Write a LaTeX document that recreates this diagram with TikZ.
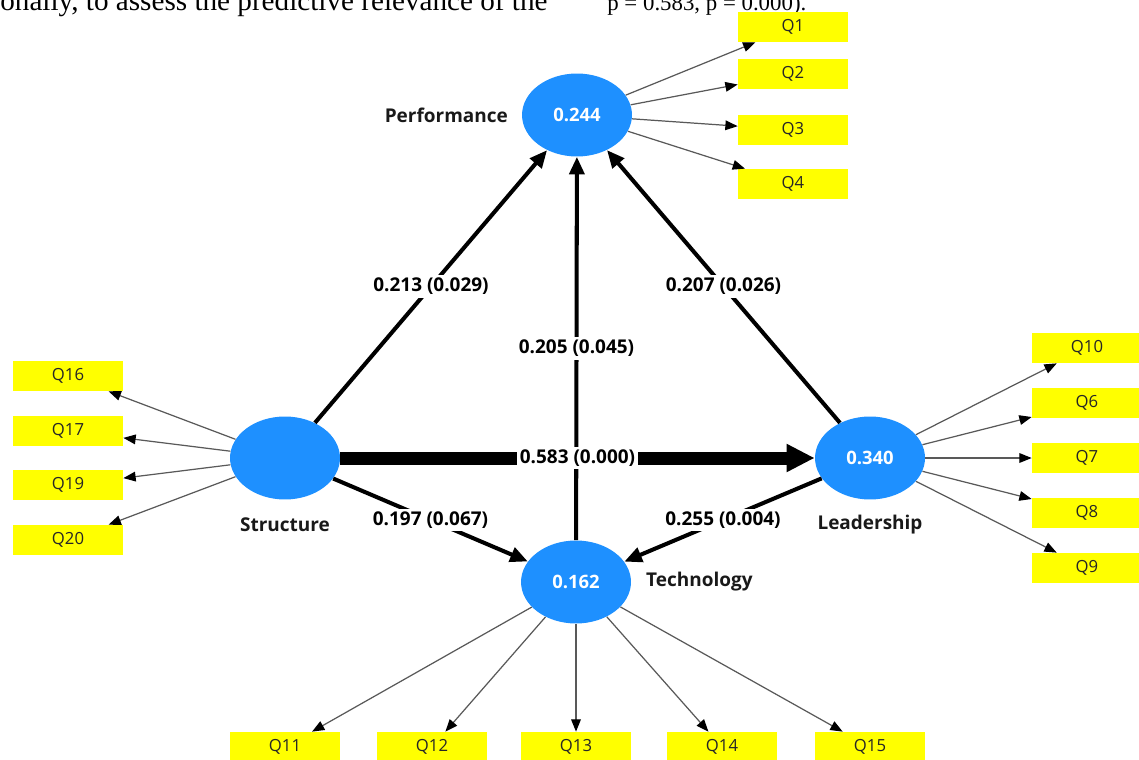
\documentclass[tikz,border=0pt]{standalone}
\usepackage{fontspec}
\setmainfont{Open Sans}
\newfontfamily\paperfont{Liberation Serif}
\usepackage{xcolor}
\usetikzlibrary{shapes.geometric,arrows.meta}
\definecolor{lvblue}{RGB}{30,144,255}
\definecolor{itemyellow}{RGB}{255,255,0}

\begin{document}
\begin{tikzpicture}[x=0.02cm, y=-0.02cm,
    latent/.style={ellipse, fill=lvblue, minimum width=2.2cm, minimum height=1.66cm,
                   inner sep=0pt, text=white, font=\fontsize{10.5}{12}\selectfont\bfseries},
    indicator/.style={fill=itemyellow, minimum width=2.2cm, minimum height=0.6cm,
                      inner sep=0pt, text=black!85, font=\fontsize{9.5}{11}\selectfont},
    lvlabel/.style={text=black!90, font=\fontsize{10.8}{12}\selectfont\bfseries},
    coef/.style={fill=white, inner sep=1.5pt, font=\fontsize{10.8}{12}\selectfont\bfseries},
    arrow/.style={-{Triangle[length=10pt, width=8.5pt]}, line width=2.3pt},
    bigarrow/.style={-{Triangle[length=16pt, width=15pt]}, line width=7.4pt},
    loading/.style={-{Triangle[length=7pt, width=5.5pt, color=black]}, line width=0.7pt, draw=black!65}
  ]
  \useasboundingbox (0,0) rectangle (1139,760);
  \clip (0,0) rectangle (1139,760);
  % Cut-off line of the page above
  \node[anchor=base west, inner sep=0pt, font=\paperfont\fontsize{16.6}{18}\selectfont] (txta) at (0,11)
        {onally, to assess the predictive relevance of the};
  \node[anchor=base west, inner sep=0pt, font=\paperfont\fontsize{13}{15}\selectfont] (txtb) at (607,11)
        {p = 0.583, p = 0.000).};
  % Latent variables
  \node[latent] (perf)   at (577,115) {0.244};
  \node[latent] (struct) at (285,458) {};
  \node[latent] (lead)   at (870,458) {0.340};
  \node[latent] (tech)   at (576,582) {0.162};
  \node[lvlabel, anchor=east] (perfl)   at (514,115) {Performance};
  \node[lvlabel] (structl) at (285,525) {Structure};
  \node[lvlabel] (leadl)   at (870,525) {Leadership};
  \node[lvlabel, anchor=west] (techl) at (640,582) {Technology};
  % Indicators
  \node[indicator] (q1)  at (793,27)  {Q1};
  \node[indicator] (q2)  at (793,74)  {Q2};
  \node[indicator] (q3)  at (793,130) {Q3};
  \node[indicator] (q4)  at (793,184) {Q4};
  \node[indicator] (q16) at (68,376)  {Q16};
  \node[indicator] (q17) at (68,431)  {Q17};
  \node[indicator] (q19) at (68,485)  {Q19};
  \node[indicator] (q20) at (68,540)  {Q20};
  \node[indicator] (q10) at (1087,348) {Q10};
  \node[indicator] (q6)  at (1087,403) {Q6};
  \node[indicator] (q7)  at (1087,458) {Q7};
  \node[indicator] (q8)  at (1087,513) {Q8};
  \node[indicator] (q9)  at (1087,568) {Q9};
  \node[indicator] (q11) at (285,747) {Q11};
  \node[indicator] (q12) at (432,747) {Q12};
  \node[indicator] (q13) at (576,747) {Q13};
  \node[indicator] (q14) at (722,747) {Q14};
  \node[indicator] (q15) at (870,747) {Q15};
  % Loadings
  \foreach \q in {1,2,3,4}    \draw[loading] (perf) -- (q\q);
  \foreach \q in {16,17,19,20} \draw[loading] (struct) -- (q\q);
  \foreach \q in {10,6,7,8,9} \draw[loading] (lead) -- (q\q);
  \foreach \q in {11,...,15}  \draw[loading] (tech) -- (q\q);
  % Paths
  \draw[arrow] (struct) -- node[coef]{0.213 (0.029)} (perf);
  \draw[arrow] (lead)   -- node[coef]{0.207 (0.026)} (perf);
  \draw[arrow] (tech)   -- node[coef]{0.205 (0.045)} (perf);
  \draw[arrow] (struct) -- node[coef]{0.197 (0.067)} (tech);
  \draw[arrow] (lead)   -- node[coef]{0.255 (0.004)} (tech);
  \draw[bigarrow] (struct) -- node[coef]{0.583 (0.000)} (lead);
\end{tikzpicture}
\end{document}
